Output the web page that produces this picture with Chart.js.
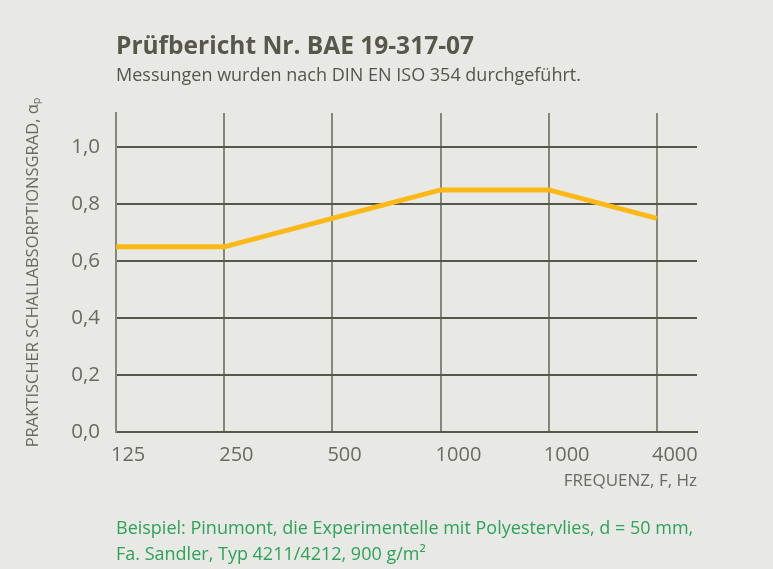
<!DOCTYPE html>
<html lang="de">
<head>
  <meta charset="UTF-8">
  <script src="https://cdn.jsdelivr.net/npm/chart.js"></script>
  <title>Prüfbericht</title>
  <style>
    body{margin:0; background:#e8e8e5;}
    #main{position:relative; width:773px; height:569px; background:#e8e8e5; font-family:"Open Sans", sans-serif;}
    #wrap{position:absolute; left:0; top:0; width:773px; height:569px;}
    .txt{position:absolute; left:116px; white-space:nowrap;}
    #title{top:28px; font-size:24.5px; font-weight:bold; color:#57574b;}
    #sub{top:62px; font-size:18px; color:#55554d;}
    #note{top:514px; font-size:18px; color:#2ea25a; line-height:26px;}
  </style>
</head>
<body>
<div id="main">
  <div id="wrap"><canvas id="myChart" width="773" height="569"></canvas></div>
  <div class="txt" id="title">Prüfbericht Nr. BAE 19-317-07</div>
  <div class="txt" id="sub">Messungen wurden nach DIN EN ISO 354 durchgeführt.</div>
  <div class="txt" id="note">Beispiel: Pinumont, die Experimentelle mit Polyestervlies, d = 50 mm,<br>Fa. Sandler, Typ 4211/4212, 900 g/m²</div>
</div>
<script>
  // Frequenzen (wie im Original beschriftet)
  const freqLabels = ['125', '250', '500', '1000', '1000', '4000'];
  // praktischer Schallabsorptionsgrad
  const alphaP = [0.65, 0.65, 0.75, 0.85, 0.85, 0.75];
  const yTicks = [0, 0.2, 0.4, 0.6, 0.8, 1.0];

  const points = alphaP.map(function(v, i){ return {x: i, y: v}; });

  const ctx = document.getElementById('myChart');
  new Chart(ctx, {
    type: 'line',
    data: {
      datasets: [{
        data: points,
        borderColor: '#fbb817',
        borderWidth: 5,
        pointRadius: 0,
        tension: 0,
        fill: false
      }]
    },
    options: {
      responsive: false,
      animation: false,
      layout: {padding: {left: 0, top: 113, right: 76, bottom: 67}},
      plugins: {legend: {display: false}, tooltip: {enabled: false}},
      scales: {
        x: {
          type: 'linear',
          min: 0,
          max: 5.37,
          afterFit: function(s){ s.height = 70; },
          border: {display: true, color: '#56564b', width: 2},
          grid: {color: '#86867b', lineWidth: 2, drawTicks: false},
          ticks: {
            stepSize: 1,
            includeBounds: false,
            align: 'start',
            labelOffset: -5,
            padding: 11,
            color: '#6a6a62',
            font: {family: 'Open Sans', size: 20},
            callback: function(v){ return freqLabels[v]; }
          },
          title: {
            display: true,
            text: 'FREQUENZ, F, Hz',
            align: 'end',
            color: '#6a6a62',
            font: {family: 'Open Sans', size: 17},
            padding: {top: 0, bottom: 11}
          }
        },
        y: {
          min: 0,
          max: 1.12,
          afterFit: function(s){ s.width = 116; },
          afterBuildTicks: function(s){ s.ticks = yTicks.map(function(v){ return {value: v}; }); },
          border: {display: true, color: '#86867b', width: 2},
          grid: {color: '#56564b', lineWidth: 2, drawTicks: false},
          ticks: {
            padding: 16,
            color: '#6a6a62',
            font: {family: 'Open Sans', size: 20.5},
            callback: function(v){ return v.toFixed(1).replace('.', ','); }
          },
          title: {
            display: true,
            text: 'PRAKTISCHER SCHALLABSORPTIONSGRAD, αₚ',
            color: '#6a6a62',
            font: {family: 'Open Sans', size: 16.5},
            padding: {top: 23, bottom: 0}
          }
        }
      }
    }
  });
</script>
</body>
</html>
